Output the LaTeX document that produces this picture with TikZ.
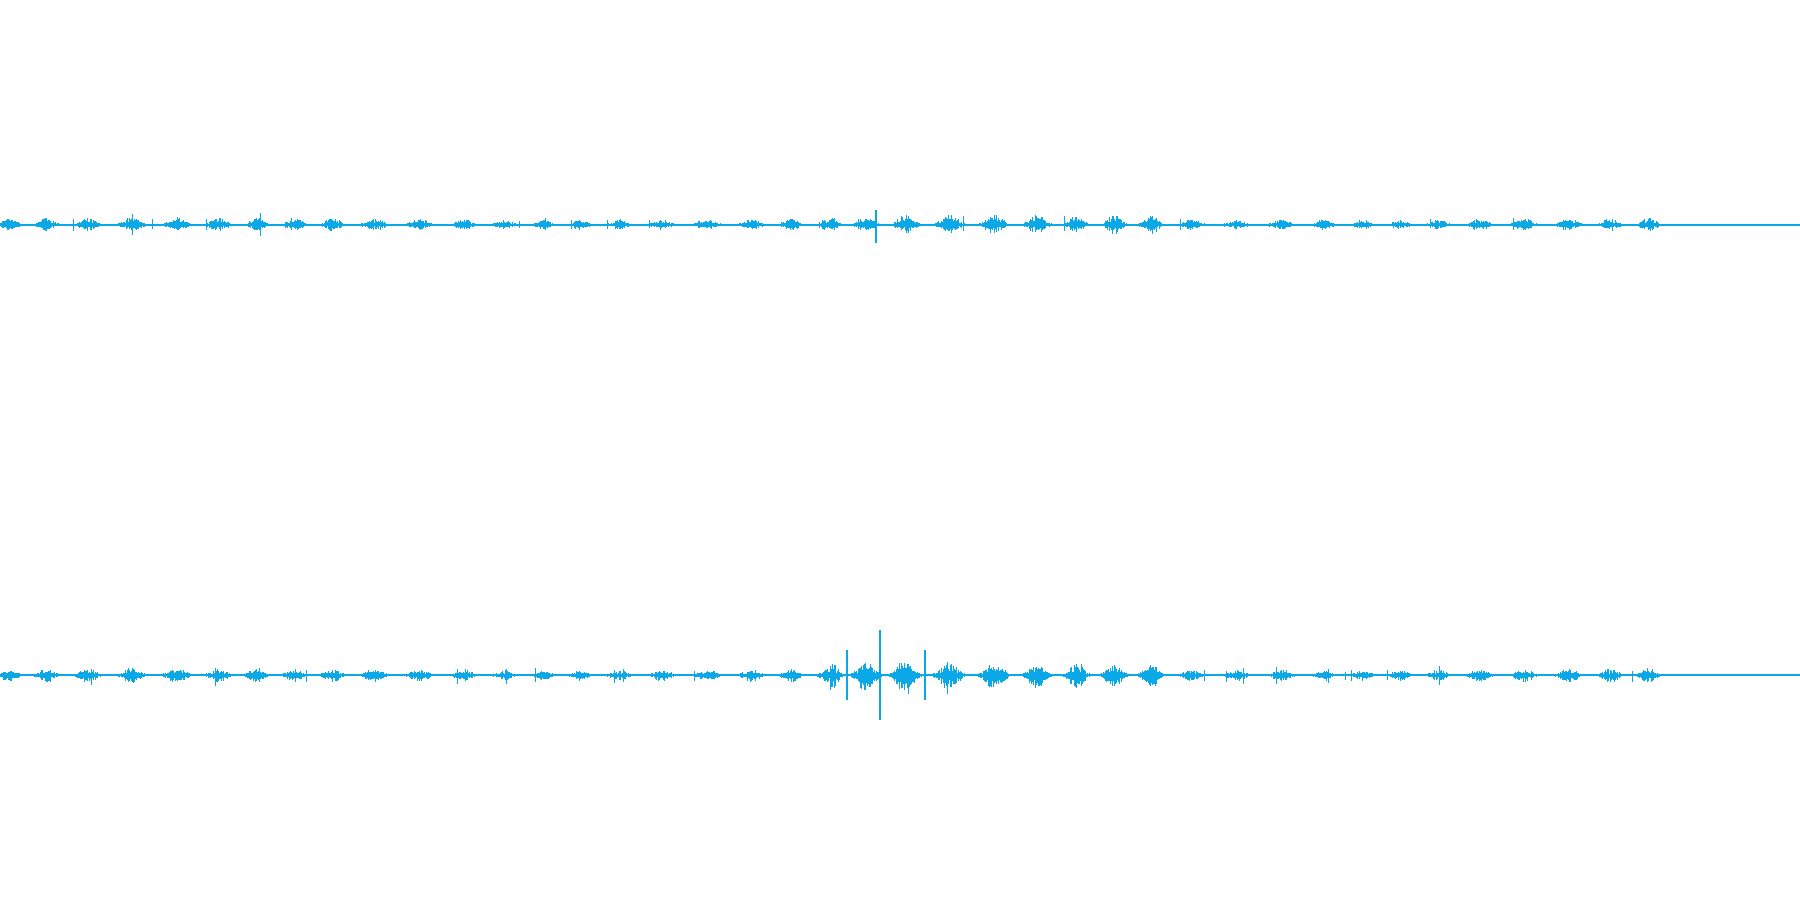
\documentclass[tikz,border=0pt]{standalone}
\definecolor{wave}{HTML}{0AA8E6}
\begin{document}
\begin{tikzpicture}[wv/.style={draw=wave,line width=0.3pt}]
\useasboundingbox (0,0) rectangle (18,9);
\pgfmathsetseed{11}
\draw[wv] (0,6.75) -- (18,6.75);
\draw[wv] (0,2.25) -- (18,2.25);
\foreach \i in {0,...,1665}{
  \pgfmathsetmacro\x{\i*0.01}
  \pgfmathsetmacro\b{0.5+0.5*sin(\x*880+40*sin(\x*130))}
  \pgfmathsetmacro\m{0.9+0.15*sin(\x*47)}
  \pgfmathsetmacro\bt{ifthenelse(\x>8.3 && \x<11.6,1.4,1)*\m}
  \pgfmathsetmacro\bb{ifthenelse(\x>8.3 && \x<9.2,2.6,ifthenelse(\x>9.2 && \x<11.6,1.8,1))*\m}
  \pgfmathsetmacro\et{(0.004+0.07*\b^1.5*(0.3+0.7*rnd)+0.05*(rnd>0.99))*\bt}
  \pgfmathsetmacro\eb{(0.004+0.075*\b^1.5*(0.3+0.7*rnd)+0.06*(rnd>0.99))*\bb}
  \pgfmathsetmacro\rt{0.5+0.5*rnd}
  \pgfmathsetmacro\rb{0.5+0.5*rnd}
  \draw[wv] (\x,6.75-\et*\rt) -- (\x,6.75+\et);
  \draw[wv] (\x,2.25-\eb) -- (\x,2.25+\eb*\rb);
}
\draw[wv] (8.76,6.57) -- (8.76,6.9);
\draw[wv] (8.8,1.8) -- (8.8,2.7);
\draw[wv] (8.47,2.0) -- (8.47,2.5);
\draw[wv] (9.25,2.0) -- (9.25,2.5);
\foreach \i in {0,...,67}{
  \pgfmathsetmacro\x{16.66+\i*0.02}
  \draw[wv] (\x,6.74) -- (\x,6.76);
  \draw[wv] (\x,2.24) -- (\x,2.26);
}
\end{tikzpicture}
\end{document}
